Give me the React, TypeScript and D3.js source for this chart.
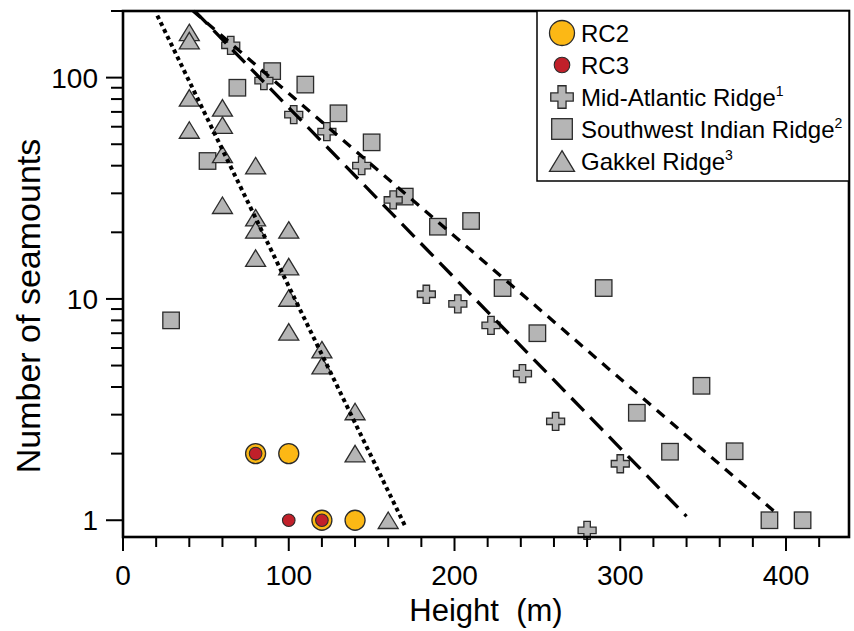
import React from "react";
import * as d3 from "d3";

// seamount counts per height bin
const rc2 = [
  { h: 80, n: 2 }, { h: 100, n: 2 }, { h: 120, n: 1 }, { h: 140, n: 1 },
];
const rc3 = [
  { h: 80, n: 2 }, { h: 100, n: 1 }, { h: 120, n: 1 },
];
const midAtlantic = [
  { h: 65, n: 140 }, { h: 85, n: 97 }, { h: 103, n: 68 }, { h: 123, n: 57 },
  { h: 144, n: 40 }, { h: 163, n: 28 }, { h: 183, n: 10.5 }, { h: 202, n: 9.5 },
  { h: 222, n: 7.6 }, { h: 241, n: 4.6 }, { h: 261, n: 2.8 }, { h: 280, n: 0.9 },
  { h: 300, n: 1.8 },
];
const swIndian = [
  { h: 29, n: 8 }, { h: 51, n: 42 }, { h: 69, n: 90 }, { h: 90, n: 107 },
  { h: 110, n: 93 }, { h: 130, n: 69 }, { h: 150, n: 51 }, { h: 170, n: 29 },
  { h: 190, n: 21.2 }, { h: 210, n: 22.5 }, { h: 229, n: 11.2 }, { h: 250, n: 7 },
  { h: 290, n: 11.2 }, { h: 310, n: 3.06 }, { h: 330, n: 2.04 }, { h: 349, n: 4.05 },
  { h: 369, n: 2.05 }, { h: 390, n: 1 }, { h: 410, n: 1 },
];
const gakkel = [
  { h: 40, n: 160 }, { h: 40, n: 147 }, { h: 40, n: 81 }, { h: 60, n: 73 },
  { h: 60, n: 61 }, { h: 40, n: 58 }, { h: 60, n: 45 }, { h: 80, n: 40 },
  { h: 60, n: 26.5 }, { h: 80, n: 23.3 }, { h: 80, n: 20.5 }, { h: 100, n: 20.5 },
  { h: 80, n: 15.3 }, { h: 100, n: 14 }, { h: 100, n: 10.1 }, { h: 100, n: 7.1 },
  { h: 120, n: 5.9 }, { h: 120, n: 5 }, { h: 140, n: 3.1 }, { h: 140, n: 2 },
  { h: 160, n: 1 },
];

// exponential fits: log10(N) = a + b * h
const fits = [
  { key: "gakkel", a: 2.6, b: -0.01543, from: 20.7, to: 170 },
  { key: "mar", a: 2.634, b: -0.007695, from: 43.3, to: 340 },
  { key: "swir", a: 2.574, b: -0.00645, from: 42.3, to: 395 },
];

const xTicks = d3.range(0, 440, 20);
const xLabels = [0, 100, 200, 300, 400];
const yMajor = [1, 10, 100];
const yMinor = [2, 3, 4, 5, 6, 7, 8, 9, 20, 30, 40, 50, 60, 70, 80, 90, 200];

const legendItems = [
  { key: "rc2", label: "RC2", sup: "" },
  { key: "rc3", label: "RC3", sup: "" },
  { key: "mar", label: "Mid-Atlantic Ridge", sup: "1" },
  { key: "swir", label: "Southwest Indian Ridge", sup: "2" },
  { key: "gakkel", label: "Gakkel Ridge", sup: "3" },
];

const W = 854, H = 631;
const left = 123, right = 849, top = 11, bottom = 537;
const FONT = "Liberation Sans, Arial, Helvetica, sans-serif";
const GRAY = "#b5b5b5";
const EDGE = "#2b2b2b";
const YELLOW = "#fcb815";
const RED = "#c1202a";
const dashes: Record<string, string> = { gakkel: "4,3.6", mar: "18,9", swir: "10,8" };
const widths: Record<string, number> = { gakkel: 4, mar: 3.3, swir: 3.3 };

function crossPath(s: number) {
  const L = s / 2, a = s * 0.18;
  return `M${-a},${-L}H${a}V${-a}H${L}V${a}H${a}V${L}H${-a}V${a}H${-L}V${-a}H${-a}Z`;
}
function triPath(w: number, h: number) {
  return `M0,${-h / 2}L${w / 2},${h / 2}L${-w / 2},${h / 2}Z`;
}

function Marker({ kind, big = false }: { kind: string; big?: boolean }) {
  const k = big ? 1.25 : 1;
  if (kind === "rc2") return <circle r={10 * k} fill={YELLOW} stroke={EDGE} strokeWidth={1.3} />;
  if (kind === "rc3") return <circle r={(big ? 7.8 : 6.3)} fill={RED} stroke={EDGE} strokeWidth={1.1} />;
  if (kind === "mar") return <path d={crossPath(18 * k)} fill={GRAY} stroke={EDGE} strokeWidth={1.3} />;
  if (kind === "swir") {
    const s = 16.5 * k;
    return <rect x={-s / 2} y={-s / 2} width={s} height={s} fill={GRAY} stroke={EDGE} strokeWidth={1.3} />;
  }
  return <path d={triPath(20 * k, 16.5 * k)} fill={GRAY} stroke={EDGE} strokeWidth={1.3} />;
}

export default function App() {
  const x = d3.scaleLinear().domain([0, 438]).range([left, right]);
  const y = d3.scaleLog().domain([0.84, 200]).range([bottom, top]);

  const fitLine = d3.line<number>().x((h) => x(h));

  const series: [string, { h: number; n: number }[]][] = [
    ["swir", swIndian], ["mar", midAtlantic], ["gakkel", gakkel], ["rc2", rc2], ["rc3", rc3],
  ];

  return (
    <svg width={W} height={H} style={{ position: "absolute", left: 0, top: 0, background: "#fff", fontFamily: FONT }}>
      <rect width={W} height={H} fill="#fff" />

      {/* markers */}
      {series.map(([key, pts]) => (
        <g key={key}>
          {pts.map((d, i) => (
            <g key={i} transform={`translate(${x(d.h)},${y(d.n)})`}>
              <Marker kind={key} />
            </g>
          ))}
        </g>
      ))}

      {/* fitted lines */}
      {fits.map((f) => {
        const line = fitLine.y((h) => y(Math.pow(10, f.a + f.b * h)));
        return (
          <path key={f.key} d={line([f.from, f.to]) || ""} fill="none" stroke="#000"
            strokeWidth={widths[f.key]} strokeDasharray={dashes[f.key]} />
        );
      })}

      {/* frame */}
      <rect x={left} y={top} width={right - left} height={bottom - top} fill="none" stroke="#000" strokeWidth={2.6} />

      {/* x axis */}
      {xTicks.map((t) => (
        <line key={t} x1={x(t)} x2={x(t)} y1={bottom} y2={bottom + (t % 100 === 0 ? 14 : 10)} stroke="#000" strokeWidth={2} />
      ))}
      {xLabels.map((t) => (
        <text key={t} x={x(t)} y={585} textAnchor="middle" fontSize={28} fill="#000">{t}</text>
      ))}
      <text x={(left + right) / 2} y={621} textAnchor="middle" fontSize={31} fill="#000" style={{ whiteSpace: "pre" }}>
        {"Height  (m)"}
      </text>

      {/* y axis */}
      {yMajor.map((t) => (
        <g key={t}>
          <line x1={left - 17} x2={left} y1={y(t)} y2={y(t)} stroke="#000" strokeWidth={2} />
          <text x={98} y={y(t) + 10} textAnchor="end" fontSize={28} fill="#000">{t}</text>
        </g>
      ))}
      {yMinor.map((t) => (
        <line key={t} x1={left - 12} x2={left} y1={y(t)} y2={y(t)} stroke="#000" strokeWidth={2} />
      ))}
      <text transform={`translate(40,306) rotate(-90)`} textAnchor="middle" fontSize={34} fill="#000">
        Number of seamounts
      </text>

      {/* legend */}
      <rect x={537} y={top} width={right - 537} height={181 - top} fill="#fff" stroke="#000" strokeWidth={1.5} />
      {legendItems.map((it, i) => {
        const cy = 33 + i * 32;
        return (
          <g key={it.key}>
            <g transform={`translate(562,${cy})`}>
              <Marker kind={it.key} big />
            </g>
            <text x={581} y={cy + 8.5} fontSize={24} fill="#000">
              {it.label}
              {it.sup && <tspan fontSize={14} dy={-10}>{it.sup}</tspan>}
            </text>
          </g>
        );
      })}
    </svg>
  );
}
